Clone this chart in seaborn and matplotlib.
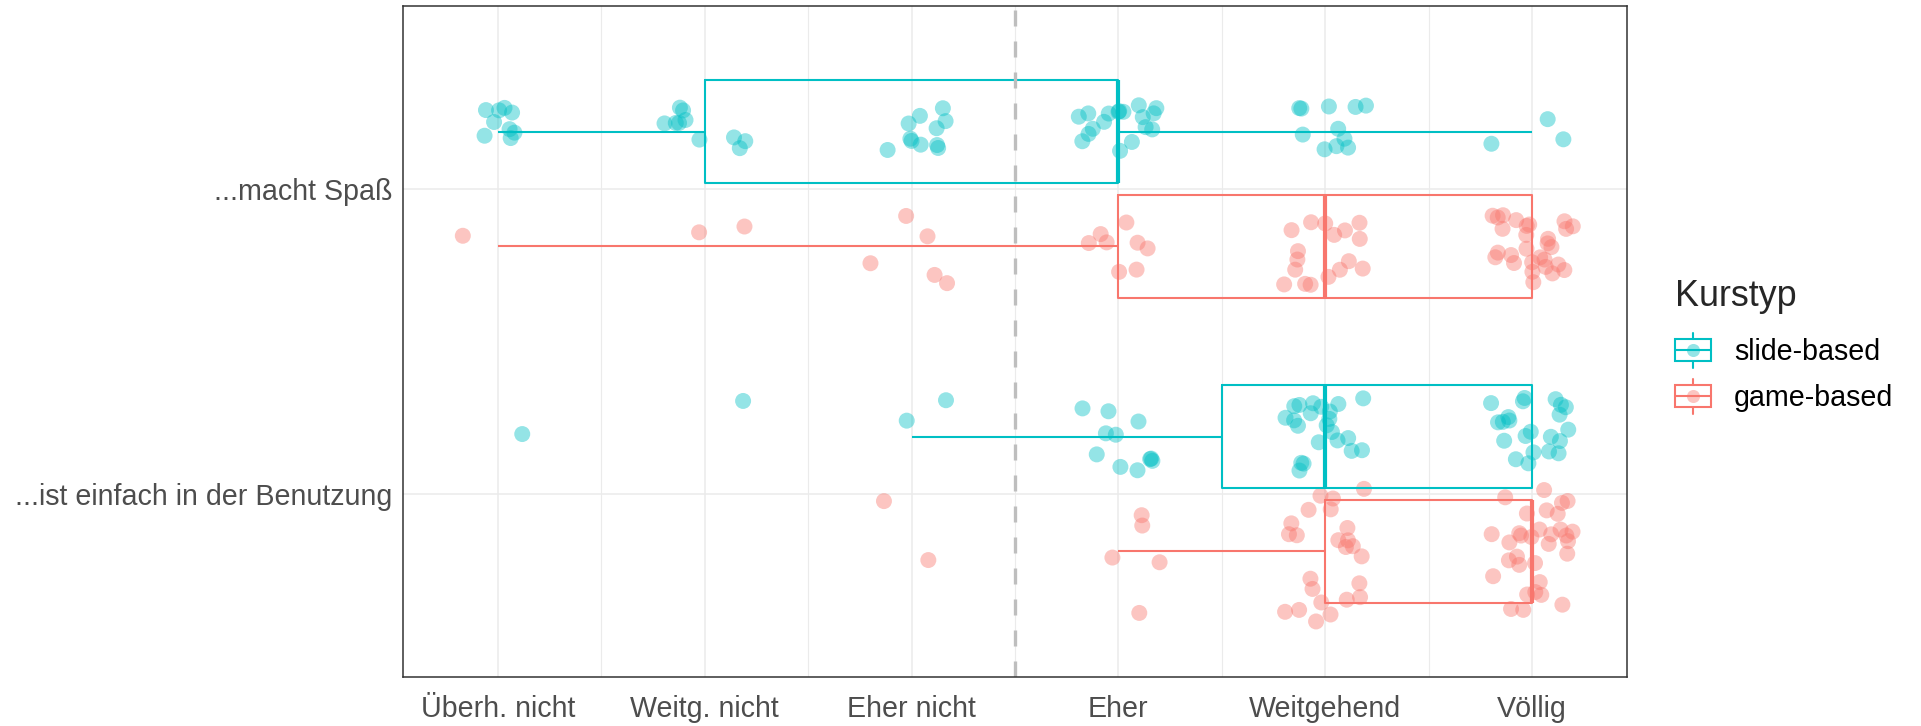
import matplotlib
matplotlib.use("Agg")
import matplotlib.pyplot as plt
from matplotlib.lines import Line2D
from matplotlib.patches import Rectangle
from matplotlib.legend_handler import HandlerBase
import seaborn as sns
import seaborn.objects as so
import pandas as pd

# Aussagen (y), Kurstypen (Farbe), Antwortstufen 1..6 (x)
aussagen = ["...macht Spaß", "...ist einfach in der Benutzung"]
kurstypen = ["slide-based", "game-based"]
stufen = ["Überh. nicht", "Weitg. nicht", "Eher nicht", "Eher", "Weitgehend", "Völlig"]

# Anzahl Antworten je Stufe (1..6), aus dem Bild abgezählt
spass_slide = [9, 10, 11, 18, 11, 3]
spass_game = [1, 2, 5, 8, 17, 28]
einfach_slide = [1, 1, 2, 11, 22, 22]
einfach_game = [0, 0, 2, 5, 24, 32]

farben = {"slide-based": "#00BFC4", "game-based": "#F8766D"}

rc = {
    "font.family": ["Liberation Sans", "DejaVu Sans"],
    "axes.facecolor": "white",
    "figure.facecolor": "white",
    "axes.edgecolor": "#333333",
    "axes.linewidth": 1.1,
    "xtick.color": "#333333",
    "ytick.color": "#333333",
    "xtick.labelcolor": "#4D4D4D",
    "ytick.labelcolor": "#4D4D4D",
    "xtick.labelsize": 20.6,
    "ytick.labelsize": 20.6,
}


def antworten_tabelle():
    """Baut aus den Zählungen eine lange Tabelle mit einer Zeile je Antwort."""
    anzahlen = {
        (aussagen[0], kurstypen[0]): spass_slide,
        (aussagen[0], kurstypen[1]): spass_game,
        (aussagen[1], kurstypen[0]): einfach_slide,
        (aussagen[1], kurstypen[1]): einfach_game,
    }
    zeilen = []
    for (aussage, typ), werte in anzahlen.items():
        for stufe, n in enumerate(werte, start=1):
            zeilen += [{"Aussage": aussage, "Kurstyp": typ, "Antwort": stufe}] * n
    return pd.DataFrame(zeilen)


class BoxKey(HandlerBase):
    """Legendensymbol wie bei ggplot: Box mit Whisker-Stummeln und Punkt."""

    def create_artists(self, legend, orig_handle, xdescent, ydescent,
                       width, height, fontsize, trans):
        farbe = orig_handle.get_color()
        cx = -xdescent + width / 2
        cy = -ydescent + height / 2
        bh, wh = 16, 25
        box = Rectangle((-xdescent, cy - bh / 2), width, bh, fill=False,
                        edgecolor=farbe, lw=1.5, transform=trans)
        mitte = Line2D([-xdescent, -xdescent + width], [cy, cy], color=farbe, lw=1.5, transform=trans)
        oben = Line2D([cx, cx], [cy + bh / 2, cy + wh / 2], color=farbe, lw=1.5, transform=trans)
        unten = Line2D([cx, cx], [cy - bh / 2, cy - wh / 2], color=farbe, lw=1.5, transform=trans)
        punkt = Line2D([cx], [cy], marker="o", markersize=9.4, markeredgewidth=0,
                       color=farbe, alpha=0.42, transform=trans)
        return [box, mitte, oben, unten, punkt]


def main():
    sns.set_style("white")
    plt.rcParams.update(rc)

    df = antworten_tabelle()

    fig, ax = plt.subplots(figsize=(19.21, 7.26), dpi=100)
    fig.subplots_adjust(left=403 / 1921, right=1627 / 1921, top=1 - 6 / 726, bottom=1 - 677 / 726)

    # Boxplots
    sns.boxplot(data=df, x="Antwort", y="Aussage", hue="Kurstyp", order=aussagen,
                hue_order=kurstypen, palette=farben, fill=False, width=0.75, gap=0.1,
                showcaps=False, showfliers=False, linewidth=1.5,
                medianprops={"linewidth": 3}, legend=False, ax=ax)

    # Trennlinie zwischen Ablehnung und Zustimmung
    ax.axvline(3.5, color="#BEBEBE", lw=2.4, linestyle=(0, (4.8, 4.5)), zorder=2.5)

    # Punkte mit Jitter (wie geom_jitter), Streuhöhe je Gruppe
    jitter_hoehe = {
        (aussagen[0], kurstypen[0]): 0.15,
        (aussagen[0], kurstypen[1]): 0.23,
        (aussagen[1], kurstypen[0]): 0.25,
        (aussagen[1], kurstypen[1]): 0.44,
    }
    p = (
        so.Plot(df, x="Antwort", y="Aussage", color="Kurstyp")
        .scale(color=so.Nominal(farben, order=kurstypen), y=so.Nominal(order=aussagen))
        .theme(rc)
    )
    for i, ((aussage, typ), h) in enumerate(jitter_hoehe.items()):
        teil = df[(df["Aussage"] == aussage) & (df["Kurstyp"] == typ)]
        p = p.add(so.Dot(pointsize=11.5, alpha=0.42, edgewidth=0),
                  so.Dodge(), so.Jitter(x=0.4, y=h, seed=i + 3),
                  data=teil, legend=False)
    p.on(ax).plot()

    # Achsen wie theme_bw
    ax.set_xlim(0.54, 6.46)
    ax.set_ylim(1.6, -0.6)
    ax.set_xticks(range(1, 7), stufen)
    ax.set_xticks([1.5, 2.5, 3.5, 4.5, 5.5], minor=True)
    ax.set_yticks([0, 1], aussagen)
    ax.set_xlabel("")
    ax.set_ylabel("")
    ax.grid(True, which="major", color="#EBEBEB", lw=1.1)
    ax.grid(True, which="minor", axis="x", color="#EBEBEB", lw=0.8)
    ax.set_axisbelow(True)
    ax.tick_params(which="major", length=5, width=1.1, color="#333333",
                   labelsize=20.6, labelcolor="#4D4D4D")
    ax.tick_params(axis="x", which="major", pad=8)
    ax.tick_params(axis="y", which="major", pad=3)
    ax.tick_params(which="minor", length=0)
    for spine in ax.spines.values():
        spine.set_visible(True)
        spine.set_color("#333333")
        spine.set_linewidth(1.1)

    # Legende
    handles = [Line2D([], [], color=farben[t], label=t) for t in kurstypen]
    leg = ax.legend(handles=handles, handler_map={Line2D: BoxKey()}, title="Kurstyp",
                    loc="upper left", bbox_to_anchor=(1675 / 1921, 1 - 279 / 726),
                    bbox_transform=fig.transFigure, frameon=False, borderpad=0,
                    borderaxespad=0, fontsize=20.6, title_fontsize=25.8,
                    handlelength=1.26, handleheight=1.2, handletextpad=0.8,
                    labelspacing=0.55, alignment="left")
    leg._legend_box.sep = 15.6  # Abstand Titel -> Einträge
    for txt in leg.get_texts():
        txt.set_color("black")

    fig.savefig("out.png", dpi=100)


if __name__ == "__main__":
    main()
